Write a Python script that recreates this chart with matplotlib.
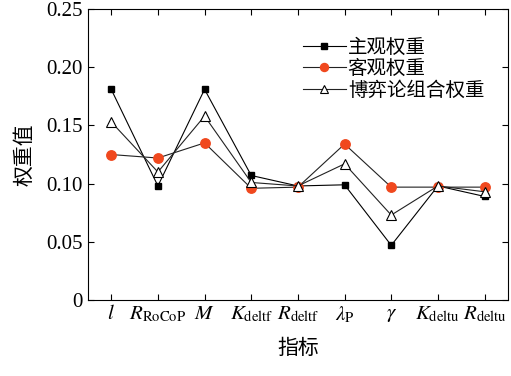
import matplotlib
matplotlib.use('Agg')
import matplotlib.pyplot as plt

plt.rcParams['font.family'] = ['Liberation Serif', 'Noto Sans CJK SC']
plt.rcParams['mathtext.fontset'] = 'stix'

# 指标
labels = [r'$l$', r'$R_{\mathrm{RoCoP}}$', r'$M$', r'$K_{\mathrm{deltf}}$', r'$R_{\mathrm{deltf}}$',
          r'$\lambda_{\mathrm{P}}$', r'$\gamma$', r'$K_{\mathrm{deltu}}$', r'$R_{\mathrm{deltu}}$']
subjective = [0.181, 0.098, 0.181, 0.107, 0.098, 0.099, 0.047, 0.098, 0.089]
objective = [0.125, 0.122, 0.135, 0.096, 0.097, 0.134, 0.097, 0.097, 0.097]
combined = [0.153, 0.110, 0.158, 0.101, 0.098, 0.117, 0.073, 0.098, 0.093]

x = list(range(len(labels)))

fig = plt.figure(figsize=(5.11, 3.76), dpi=100)
ax = fig.add_axes([0.172, 0.202, 0.822, 0.774])

ax.plot(x, subjective, color='black', lw=0.8, marker='s', ms=4.5,
        mfc='black', mec='black', label='主观权重')
ax.plot(x, objective, color='#222222', lw=0.8, marker='o', ms=6.8,
        mfc='#f0481e', mec='#f0481e', label='客观权重')
ax.plot(x, combined, color='#222222', lw=0.8, marker='^', ms=6.5,
        mfc='white', mec='black', mew=0.8, label='博弈论组合权重')

ax.set_xlim(-0.5, 8.5)
ax.set_ylim(0, 0.25)
ax.set_xticks(x)
ax.set_xticklabels(labels, fontsize=15)
ax.set_yticks([0, 0.05, 0.10, 0.15, 0.20, 0.25])
ax.set_yticklabels(['0', '0.05', '0.10', '0.15', '0.20', '0.25'], fontsize=15)
ax.tick_params(direction='in', top=True, right=True, length=4, width=0.8)
for s in ax.spines.values():
    s.set_linewidth(0.8)

ax.set_xlabel('指标', fontsize=15, labelpad=10, fontweight='light')
ax.set_ylabel('权重值', fontsize=15, labelpad=8, fontweight='light')

ax.legend(loc='upper right', fontsize=14, frameon=False, handlelength=2.2,
          handletextpad=0.1, labelspacing=0.15, borderaxespad=0.6,
          markerscale=0.85, prop={'size': 14, 'weight': 'light'},
          bbox_to_anchor=(0.99, 0.965))

fig.savefig('out.png', dpi=100)
